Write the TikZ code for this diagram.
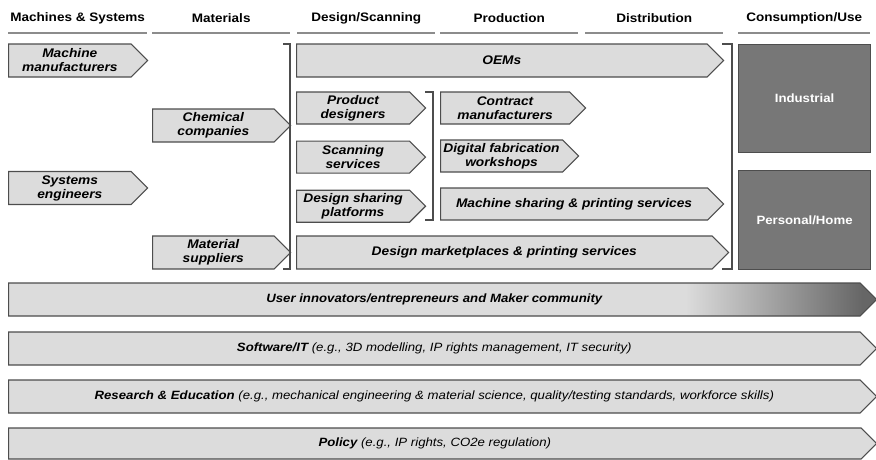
\documentclass[tikz,border=0pt]{standalone}
\usepackage{fontspec}
\setmainfont{Liberation Sans}[FakeStretch=1.1]
\usetikzlibrary{shapes.symbols, positioning}

\definecolor{boxfill}{HTML}{DCDCDC}
\definecolor{boxline}{HTML}{4D4D4D}
\definecolor{usefill}{HTML}{777777}
\definecolor{userdark}{HTML}{666666}
\definecolor{hdrgray}{HTML}{8C8C8C}
\pgfdeclarehorizontalshading{usershade}{100bp}{color(0bp)=(boxfill); color(64bp)=(boxfill); color(74.2bp)=(userdark); color(100bp)=(userdark)}

\begin{document}
\begin{tikzpicture}[
x=1pt, y=1pt,
node distance=16pt and 15pt,
chev/.style={signal, signal to=east, signal pointer angle=90, draw=boxline, fill=boxfill, line width=1.1pt, minimum height=33pt, inner sep=0pt, anchor=west, font=\fontsize{12.5}{14}\selectfont\bfseries\itshape, align=center},
band/.style={chev, minimum width=868pt, font=\fontsize{12}{14}\selectfont\itshape},
header/.style={font=\fontsize{12.3}{14}\selectfont\bfseries, minimum height=30pt, inner sep=0pt, anchor=west},
usebox/.style={rectangle, draw=boxline, fill=usefill, line width=1.1pt, text=white, anchor=north west, minimum width=132pt, font=\fontsize{12}{14}\selectfont\bfseries},
hline/.style={hdrgray, line width=2.5pt},
bracket/.style={boxline, line width=1.1pt}
]
\useasboundingbox (0,0) rectangle (876,-459);

% column headers
\node[header, minimum width=139pt] (hmach) at (8,-18) {Machines \& Systems};
\node[header, minimum width=138pt] (hmat) at (152,-18) {Materials};
\node[header, minimum width=138pt] (hdes) at (297,-18) {Design/Scanning};
\node[header, minimum width=138pt] (hprod) at (440,-18) {Production};
\node[header, minimum width=138pt] (hdist) at (585,-18) {Distribution};
\node[header, minimum width=132pt] (huse) at (738,-18) {Consumption/Use};
\foreach \h in {hmach, hmat, hdes, hprod, hdist, huse}
  \draw[hline] (\h.south west) -- (\h.south east);

% machines & materials
\node[chev, minimum width=139pt] (machman) at (8,-60.5) {Machine\\manufacturers};
\node[chev, minimum width=139pt] (syseng) at (8,-188) {Systems\\engineers};
\node[chev, minimum width=138pt] (chem) at (152,-125.5) {Chemical\\companies};
\node[chev, minimum width=138pt] (matsup) at (152,-252.5) {Material\\suppliers};

% design, production, distribution
\node[chev, minimum width=427pt] (oems) at (296,-60.5) {OEMs};
\node[chev, minimum width=129pt, minimum height=32pt] (proddes) at (296,-108) {Product\\designers};
\node[chev, minimum width=129pt, minimum height=32pt, below=16pt of proddes.south west, anchor=north west] (scan) {Scanning\\services};
\node[chev, minimum width=129pt, minimum height=32pt, below=16pt of scan.south west, anchor=north west] (dsp) {Design sharing\\platforms};
\node[chev, minimum width=145pt, minimum height=32pt] (contract) at (440,-108) {Contract\\manufacturers};
\node[chev, minimum width=138pt, minimum height=32pt] (dfw) at (440,-156) {Digital fabrication\\workshops};
\node[chev, minimum width=283pt, minimum height=32pt] (msps) at (440,-204) {Machine sharing \& printing services};
\node[chev, minimum width=432pt] (dmps) at (296,-252.5) {Design marketplaces \& printing services};

% brackets
\draw[bracket] (283,-44) -| (290,-269) -- (283,-269);
\draw[bracket] (425,-92) -| (433,-220) -- (425,-220);
\draw[bracket] (722,-44) -| (732,-269) -- (722,-269);

% consumption
\node[usebox, minimum height=108pt] (indus) at (738,-44) {Industrial};
\node[usebox, minimum height=99pt] (home) at (738,-170) {Personal/Home};

% cross-cutting bands
\node[band, shade, shading=usershade, font=\fontsize{12}{14}\selectfont\bfseries\itshape] (user) at (8,-299.5) {User innovators/entrepreneurs and Maker community};
\node[band] (soft) at (8,-348.5) {\textbf{Software/IT} (e.g., 3D modelling, IP rights management, IT security)};
\node[band] (research) at (8,-396.5) {\textbf{Research \& Education} (e.g., mechanical engineering \& material science, quality/testing standards, workforce skills)};
\node[band, minimum height=31pt] (policy) at (8,-443.5) {\textbf{Policy} (e.g., IP rights, CO2e regulation)};

\end{tikzpicture}
\end{document}
